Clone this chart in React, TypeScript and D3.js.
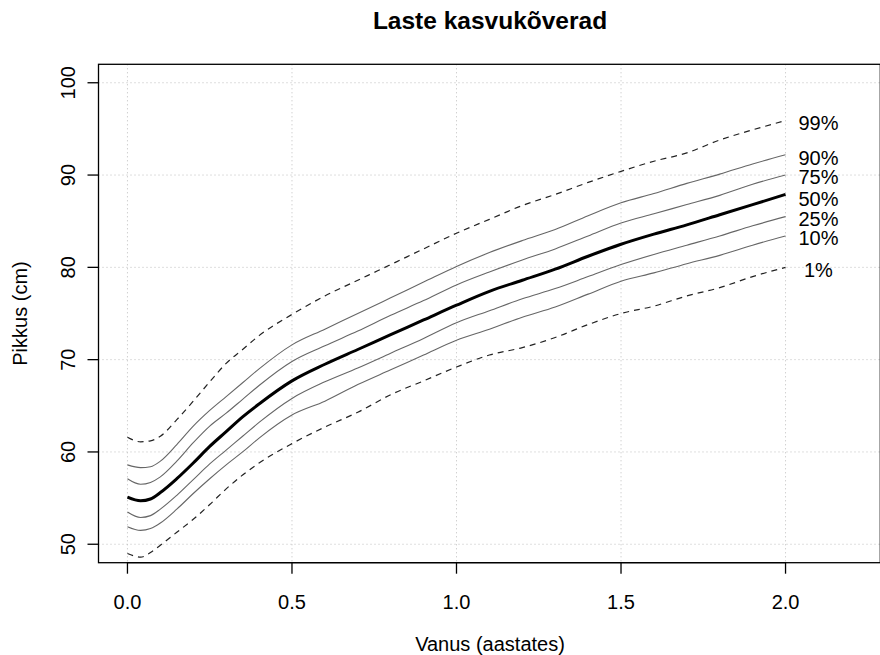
import React from "react";
import * as d3 from "d3";

const ages = [0, 0.04, 0.07, 0.1, 0.15, 0.2, 0.25, 0.3, 0.35, 0.4, 0.5, 0.6, 0.7, 0.8, 0.9, 1.0, 1.1, 1.2, 1.3, 1.4, 1.5, 1.6, 1.7, 1.8, 1.9, 2.0];
const p99 = [61.6, 61.1, 61.2, 61.7, 63.5, 65.5, 67.6, 69.6, 71.1, 72.6, 74.9, 76.9, 78.6, 80.3, 82.0, 83.7, 85.2, 86.7, 87.9, 89.2, 90.4, 91.5, 92.4, 93.8, 94.9, 95.9];
const p90 = [58.6, 58.3, 58.4, 59.0, 60.8, 62.8, 64.5, 66.0, 67.5, 69.0, 71.6, 73.3, 75.0, 76.7, 78.4, 80.1, 81.6, 82.9, 84.1, 85.6, 87.0, 88.0, 89.1, 90.1, 91.2, 92.2];
const p75 = [57.1, 56.5, 56.7, 57.3, 59.0, 61.0, 62.8, 64.2, 65.7, 67.2, 69.8, 71.5, 73.1, 74.8, 76.4, 78.1, 79.5, 80.8, 82.0, 83.4, 84.8, 85.8, 86.8, 87.8, 89.0, 90.0];
const p50 = [55.1, 54.7, 54.9, 55.6, 57.1, 58.8, 60.6, 62.2, 63.8, 65.2, 67.7, 69.5, 71.1, 72.7, 74.3, 75.9, 77.4, 78.6, 79.8, 81.2, 82.5, 83.6, 84.6, 85.7, 86.8, 87.9];
const p25 = [53.5, 52.9, 53.1, 53.8, 55.3, 57.0, 58.7, 60.2, 61.7, 63.2, 65.8, 67.6, 69.1, 70.7, 72.3, 74.0, 75.3, 76.6, 77.7, 79.0, 80.3, 81.4, 82.4, 83.4, 84.5, 85.5];
const p10 = [51.9, 51.5, 51.7, 52.3, 53.8, 55.5, 57.1, 58.6, 60.0, 61.5, 64.0, 65.5, 67.3, 68.9, 70.5, 72.1, 73.3, 74.6, 75.7, 77.1, 78.5, 79.4, 80.4, 81.3, 82.4, 83.4];
const p1 = [49.0, 48.6, 49.1, 49.9, 51.3, 52.7, 54.3, 56.0, 57.5, 58.8, 60.9, 62.7, 64.3, 66.2, 67.7, 69.2, 70.5, 71.3, 72.4, 73.8, 75.0, 75.8, 76.9, 77.8, 79.0, 80.0];

const labels = ["99%", "90%", "75%", "50%", "25%", "10%", "1%"];
const labelY = [95.7, 91.9, 89.8, 87.4, 85.3, 83.2, 79.7];
const labelX = 2.1;

const xTicks = [0, 0.5, 1.0, 1.5, 2.0];
const yTicks = [50, 60, 70, 80, 90, 100];

const title = "Laste kasvukõverad";
const xTitle = "Vanus (aastates)";
const yTitle = "Pikkus (cm)";

const W = 880;
const H = 655;
const FONT = "'Liberation Sans', Arial, Helvetica, sans-serif";

export default function App() {
  const left = 98.5, right = 880.3, top = 64.3, bottom = 562.7;
  const x = d3.scaleLinear().domain([-0.088, 2.288]).range([left, right]);
  const y = d3.scaleLinear().domain([48, 102]).range([bottom, top]);

  const series = [
    { v: p99, stroke: "#222", w: 1.2, dash: "6,5" },
    { v: p90, stroke: "#666", w: 1.1, dash: undefined },
    { v: p75, stroke: "#666", w: 1.1, dash: undefined },
    { v: p25, stroke: "#666", w: 1.1, dash: undefined },
    { v: p10, stroke: "#666", w: 1.1, dash: undefined },
    { v: p1, stroke: "#222", w: 1.2, dash: "6,5" },
    { v: p50, stroke: "#000", w: 3, dash: undefined },
  ];

  const line = (vals: number[]) =>
    d3
      .line<number>()
      .x((_, i) => x(ages[i]))
      .y((d) => y(d))
      .curve(d3.curveMonotoneX)(vals) || "";

  const fs = 20;

  return (
    <svg
      width={W}
      height={H}
      style={{ position: "absolute", left: 0, top: 0, background: "#fff" }}
      fontFamily={FONT}
    >
      <rect x={0} y={0} width={W} height={H} fill="#fff" />
      {xTicks.map((t) => (
        <line key={"gx" + t} x1={x(t)} x2={x(t)} y1={top} y2={bottom} stroke="#bdbdbd" strokeWidth={1} strokeDasharray="1,3" />
      ))}
      {yTicks.map((t) => (
        <line key={"gy" + t} x1={left} x2={right} y1={y(t)} y2={y(t)} stroke="#bdbdbd" strokeWidth={1} strokeDasharray="1,3" />
      ))}
      {series.map((s, i) => (
        <path key={i} d={line(s.v)} fill="none" stroke={s.stroke} strokeWidth={s.w} strokeDasharray={s.dash} strokeLinejoin="round" />
      ))}
      {labels.map((l, i) => (
        <text key={l} x={x(labelX)} y={y(labelY[i]) + 0.358 * fs} fontSize={fs} textAnchor="middle" fill="#000">
          {l}
        </text>
      ))}
      <rect x={left} y={top} width={right - left} height={bottom - top} fill="none" stroke="#000" strokeWidth={1.3} />
      <line x1={x(0)} x2={x(2)} y1={bottom} y2={bottom} stroke="#000" strokeWidth={1.3} />
      {xTicks.map((t) => (
        <g key={"xt" + t}>
          <line x1={x(t)} x2={x(t)} y1={bottom} y2={bottom + 11} stroke="#000" strokeWidth={1.3} />
          <text x={x(t)} y={608.5} fontSize={fs} textAnchor="middle">
            {d3.format(".1f")(t)}
          </text>
        </g>
      ))}
      {yTicks.map((t) => (
        <g key={"yt" + t}>
          <line x1={left - 11} x2={left} y1={y(t)} y2={y(t)} stroke="#000" strokeWidth={1.3} />
          <text transform={`translate(75,${y(t)}) rotate(-90)`} fontSize={fs} textAnchor="middle">
            {t}
          </text>
        </g>
      ))}
      <text x={490} y={28.5} fontSize={24.5} fontWeight="bold" textAnchor="middle">
        {title}
      </text>
      <text x={490} y={651} fontSize={fs} textAnchor="middle">
        {xTitle}
      </text>
      <text transform={`translate(27,${(top + bottom) / 2}) rotate(-90)`} fontSize={fs} textAnchor="middle">
        {yTitle}
      </text>
    </svg>
  );
}
